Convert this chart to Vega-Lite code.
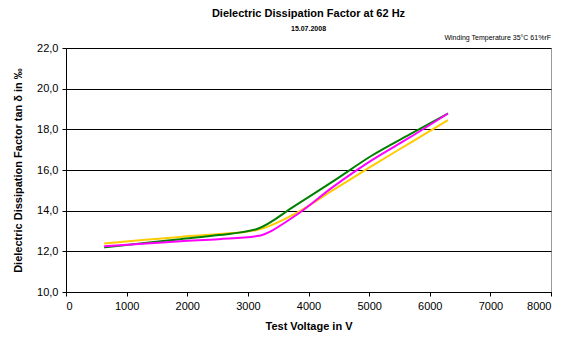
{
  "$schema": "https://vega.github.io/schema/vega-lite/v6.json",
  "width": 485,
  "height": 244,
  "autosize": {"type": "none"},
  "padding": {"left": 66, "top": 48, "right": 25, "bottom": 50},
  "background": "white",
  "config": {
    "font": "Liberation Sans",
    "view": {"stroke": "#999999", "strokeWidth": 1}
  },
  "title": {
    "text": "Dielectric Dissipation Factor at 62 Hz",
    "subtitle": "15.07.2008",
    "fontSize": 11,
    "fontWeight": "bold",
    "subtitleFontSize": 7,
    "subtitleFontWeight": "bold",
    "subtitlePadding": 6,
    "color": "black",
    "subtitleColor": "black",
    "anchor": "middle",
    "offset": 2
  },
  "data": {
    "values": [
      {"V": 630, "tan": 12.39, "s": "s1"},
      {"V": 1260, "tan": 12.56, "s": "s1"},
      {"V": 1890, "tan": 12.71, "s": "s1"},
      {"V": 2520, "tan": 12.85, "s": "s1"},
      {"V": 3150, "tan": 13.05, "s": "s1"},
      {"V": 3780, "tan": 13.85, "s": "s1"},
      {"V": 4410, "tan": 15.02, "s": "s1"},
      {"V": 5040, "tan": 16.19, "s": "s1"},
      {"V": 5670, "tan": 17.32, "s": "s1"},
      {"V": 6300, "tan": 18.45, "s": "s1"},
      {"V": 630, "tan": 12.19, "s": "s2"},
      {"V": 1260, "tan": 12.4, "s": "s2"},
      {"V": 1890, "tan": 12.6, "s": "s2"},
      {"V": 2520, "tan": 12.8, "s": "s2"},
      {"V": 3150, "tan": 13.1, "s": "s2"},
      {"V": 3780, "tan": 14.25, "s": "s2"},
      {"V": 4410, "tan": 15.45, "s": "s2"},
      {"V": 5040, "tan": 16.7, "s": "s2"},
      {"V": 5670, "tan": 17.75, "s": "s2"},
      {"V": 6300, "tan": 18.78, "s": "s2"},
      {"V": 630, "tan": 12.25, "s": "s3"},
      {"V": 1260, "tan": 12.37, "s": "s3"},
      {"V": 1890, "tan": 12.5, "s": "s3"},
      {"V": 2520, "tan": 12.6, "s": "s3"},
      {"V": 3150, "tan": 12.75, "s": "s3"},
      {"V": 3780, "tan": 13.75, "s": "s3"},
      {"V": 4410, "tan": 15.18, "s": "s3"},
      {"V": 5040, "tan": 16.47, "s": "s3"},
      {"V": 5670, "tan": 17.6, "s": "s3"},
      {"V": 6300, "tan": 18.78, "s": "s3"}
    ]
  },
  "layer": [
    {
      "mark": {"type": "line", "interpolate": "monotone", "strokeWidth": 2},
      "encoding": {
        "x": {
          "field": "V",
          "type": "quantitative",
          "scale": {"domain": [0, 8000], "nice": false},
          "axis": {
            "title": "Test Voltage in V",
            "values": [0, 1000, 2000, 3000, 4000, 5000, 6000, 7000, 8000],
            "format": "d",
            "grid": false,
            "domainColor": "black",
            "tickColor": "black",
            "tickSize": 4,
            "labelColor": "black",
            "labelFontSize": 11,
            "labelPadding": 4,
            "titleFontSize": 11,
            "titleFontWeight": "bold",
            "titleColor": "black",
            "titlePadding": 9
          }
        },
        "y": {
          "field": "tan",
          "type": "quantitative",
          "scale": {"domain": [10, 22], "nice": false, "zero": false},
          "axis": {
            "title": "Dielectric Dissipation Factor tan δ in ‰",
            "values": [10, 12, 14, 16, 18, 20, 22],
            "labelExpr": "replace(format(datum.value, '.1f'), '.', ',')",
            "grid": true,
            "gridColor": "black",
            "gridOpacity": 1,
            "domainColor": "black",
            "tickColor": "black",
            "tickSize": 4,
            "labelColor": "black",
            "labelFontSize": 11,
            "labelPadding": 4,
            "titleFontSize": 11,
            "titleFontWeight": "bold",
            "titleColor": "black",
            "titlePadding": 13
          }
        },
        "color": {
          "field": "s",
          "type": "nominal",
          "scale": {"domain": ["s1", "s2", "s3"], "range": ["#FFCC00", "#008000", "#FF00FF"]},
          "legend": null
        }
      }
    },
    {
      "data": {"values": [{"V": 8000, "tan": 22, "label": "Winding Temperature 35°C 61%rF"}]},
      "mark": {"type": "text", "align": "right", "baseline": "bottom", "dy": -7, "dx": 0, "fontSize": 7, "color": "black"},
      "encoding": {
        "x": {"field": "V", "type": "quantitative"},
        "y": {"field": "tan", "type": "quantitative"},
        "text": {"field": "label"}
      }
    }
  ]
}
